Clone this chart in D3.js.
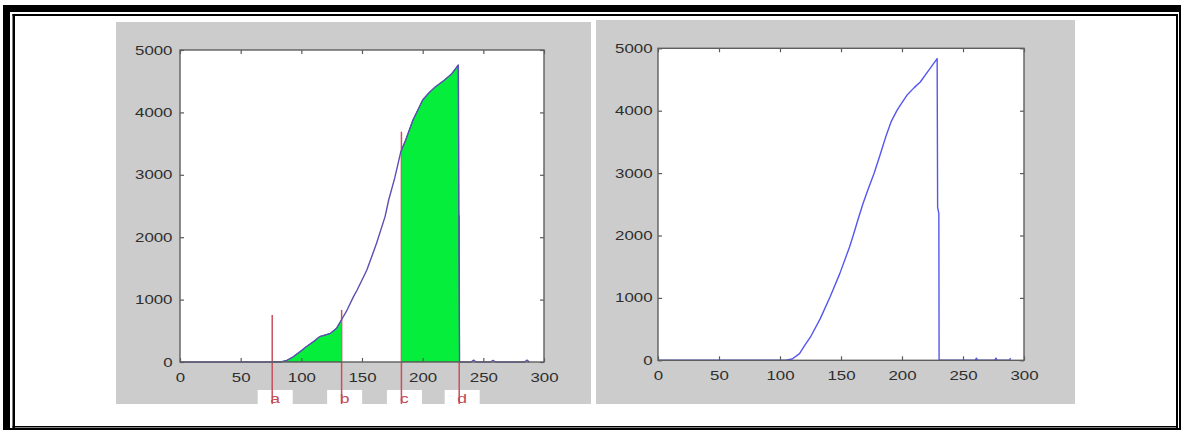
<!DOCTYPE html>
<html>
<head>
<meta charset="utf-8">
<script src="https://cdn.jsdelivr.net/npm/d3@7"></script>
<style>
  html, body { margin: 0; padding: 0; background: #ffffff; }
  svg { display: block; }
</style>
</head>
<body>
<svg id="fig" width="1181" height="430"></svg>
<script>
// Cumulative curve, left panel (x = sample index, y = accumulated value)
const leftDays = [0, 30, 60, 83, 88, 93, 99, 104, 110, 115, 120, 124, 129, 133, 137, 143, 146, 154, 162, 169, 172, 177, 182, 186, 192, 200, 205, 210, 218, 224, 229.4, 229.9, 230.4, 240, 242, 244, 256, 258, 260, 284, 286, 288];
const leftValues = [0, 0, 0, 0, 25, 80, 166, 245, 326, 406, 435, 460, 540, 673, 806, 1047, 1154, 1474, 1902, 2330, 2596, 2950, 3370, 3557, 3878, 4199, 4310, 4402, 4519, 4620, 4760, 2350, 0, 0, 30, 0, 0, 25, 0, 0, 30, 0];

// Cumulative curve, right panel
const rightDays = [0, 50, 100, 105, 110, 116, 120, 125, 133, 141, 149, 157, 160, 164, 168, 172, 177, 182, 187, 191, 196, 200, 204, 210, 215, 222, 228.8, 229.2, 230.2, 230.4, 240, 260, 261, 262, 276, 277, 278, 288, 289];
const rightValues = [0, 0, 0, 0, 20, 107, 230, 374, 668, 1015, 1389, 1816, 2000, 2260, 2510, 2730, 2990, 3290, 3600, 3820, 4010, 4130, 4247, 4370, 4460, 4650, 4835, 2450, 2350, 0, 0, 0, 35, 0, 0, 35, 0, 0, 35];

// Marker lines a..d on the left panel; shaded spans are a–b and c–d
const markerNames = ["a", "b", "c", "d"];
const markerDays = [76, 133.2, 182.5, 230.1];
const markerTops = [753, 833, 3690, 2350];

const xTicks = [0, 50, 100, 150, 200, 250, 300];
const yTicks = [0, 1000, 2000, 3000, 4000, 5000];

const svg = d3.select("#fig");
const TEXT_STRETCH = 1.35;
const FONT_SIZE = 12.5;
const FONT = "'Liberation Sans', Arial, sans-serif";

// ---- outer double frame ----
const frame = svg.append("g").attr("fill", "#000");
frame.append("rect").attr("x", 3).attr("y", 5).attr("width", 1178).attr("height", 7);
frame.append("rect").attr("x", 3).attr("y", 5).attr("width", 7).attr("height", 425);
frame.append("rect").attr("x", 1179).attr("y", 5).attr("width", 2).attr("height", 425);
frame.append("rect").attr("x", 3).attr("y", 428).attr("width", 1178).attr("height", 2);
frame.append("rect").attr("x", 12.5).attr("y", 14).attr("width", 1165.5).attr("height", 2);
frame.append("rect").attr("x", 12.5).attr("y", 14).attr("width", 2.5).attr("height", 414);
frame.append("rect").attr("x", 1176).attr("y", 14).attr("width", 2).attr("height", 414);
frame.append("rect").attr("x", 12.5).attr("y", 426).attr("width", 1165.5).attr("height", 1.5);

function drawPanel(id, panel, plot, days, values, lineColor, labelGap, withMarkers) {
  const g = svg.append("g");
  const clipId = "clip-" + id;
  svg.append("defs").append("clipPath").attr("id", clipId)
    .append("rect").attr("x", panel.x0).attr("y", panel.y0)
    .attr("width", panel.x1 - panel.x0).attr("height", panel.y1 - panel.y0);

  g.append("rect").attr("x", panel.x0).attr("y", panel.y0)
    .attr("width", panel.x1 - panel.x0).attr("height", panel.y1 - panel.y0)
    .attr("fill", "#cccccc");

  const x = d3.scaleLinear().domain([0, 300]).range([plot.left, plot.right]);
  const y = d3.scaleLinear().domain([0, 5000]).range([plot.bottom, plot.top]);

  g.append("rect").attr("x", plot.left).attr("y", plot.top)
    .attr("width", plot.right - plot.left).attr("height", plot.bottom - plot.top)
    .attr("fill", "#ffffff");

  const pts = days.map((d, i) => [d, values[i]]);
  const inner = g.append("g").attr("clip-path", `url(#${clipId})`);

  if (withMarkers) {
    // label boxes under the axis
    markerDays.forEach(d => {
      inner.append("rect")
        .attr("x", x(d) + 3 - 17.5).attr("y", 390)
        .attr("width", 35).attr("height", 20)
        .attr("fill", "#ffffff");
    });
    // red marker lines
    markerDays.forEach((d, i) => {
      inner.append("line")
        .attr("x1", x(d)).attr("x2", x(d))
        .attr("y1", y(markerTops[i])).attr("y2", panel.y1)
        .attr("stroke", "#c9505c").attr("stroke-width", 1.5);
    });
    // shaded areas between a–b and c–d
    const spanClip = svg.append("defs").append("clipPath").attr("id", "spans-" + id);
    [[markerDays[0], markerDays[1]], [markerDays[2], markerDays[3]]].forEach(([a, b]) => {
      spanClip.append("rect").attr("x", x(a)).attr("y", plot.top)
        .attr("width", x(b) - x(a)).attr("height", plot.bottom - plot.top);
    });
    const area = d3.area().x(d => x(d[0])).y0(y(0)).y1(d => y(d[1]));
    inner.append("path").datum(pts)
      .attr("d", area)
      .attr("clip-path", `url(#spans-${id})`)
      .attr("fill", "#06ee3c")
      .attr("stroke", "#1f6b35").attr("stroke-width", 1);
    // marker letters
    markerDays.forEach((d, i) => {
      inner.append("g").attr("transform", `translate(${x(d) + 3},403)`)
        .append("text")
        .attr("transform", `scale(${TEXT_STRETCH},1)`)
        .attr("text-anchor", "middle")
        .attr("font-family", FONT).attr("font-size", 13)
        .attr("fill", "#c24a55")
        .text(markerNames[i]);
    });
  }

  const line = d3.line().x(d => x(d[0])).y(d => y(d[1]));
  g.append("path").datum(pts)
    .attr("d", line)
    .attr("fill", "none")
    .attr("stroke", lineColor).attr("stroke-width", 1.4)
    .attr("stroke-linejoin", "round");

  // axes box with inward ticks on every side
  const tickColor = "#5a5a5a";
  const fmt = d3.format("d");
  const axB = d3.axisBottom(x).tickValues(xTicks).tickFormat(fmt).tickSizeInner(-4).tickSizeOuter(0).tickPadding(11);
  const axT = d3.axisTop(x).tickValues(xTicks).tickSizeInner(-4).tickSizeOuter(0).tickFormat("");
  const axL = d3.axisLeft(y).tickValues(yTicks).tickFormat(fmt).tickSizeInner(-4).tickSizeOuter(0).tickPadding(labelGap / TEXT_STRETCH);
  const axR = d3.axisRight(y).tickValues(yTicks).tickSizeInner(-4).tickSizeOuter(0).tickFormat("");

  const gB = g.append("g").attr("transform", `translate(0,${plot.bottom})`).call(axB);
  const gT = g.append("g").attr("transform", `translate(0,${plot.top})`).call(axT);
  const gL = g.append("g").attr("transform", `translate(${plot.left},0)`).call(axL);
  const gR = g.append("g").attr("transform", `translate(${plot.right},0)`).call(axR);

  [gB, gT, gL, gR].forEach(a => {
    a.select(".domain").remove();
    a.selectAll("line").attr("stroke", tickColor).attr("stroke-width", 1.2);
    a.selectAll("text")
      .attr("font-family", FONT).attr("font-size", FONT_SIZE)
      .attr("fill", "#2e2e2e")
      .attr("transform", `scale(${TEXT_STRETCH},1)`);
  });

  g.append("rect").attr("x", plot.left).attr("y", plot.top)
    .attr("width", plot.right - plot.left).attr("height", plot.bottom - plot.top)
    .attr("fill", "none").attr("stroke", "#5e5e5e").attr("stroke-width", 1.4);
}

drawPanel("left",
  { x0: 116, y0: 22, x1: 591, y1: 404 },
  { left: 180, top: 50, right: 544, bottom: 362 },
  leftDays, leftValues, "#5a50b4", 7.5, true);

drawPanel("right",
  { x0: 596, y0: 20, x1: 1075, y1: 404 },
  { left: 658, top: 48.3, right: 1024, bottom: 360.3 },
  rightDays, rightValues, "#5656ee", 5.5, false);
</script>
</body>
</html>
